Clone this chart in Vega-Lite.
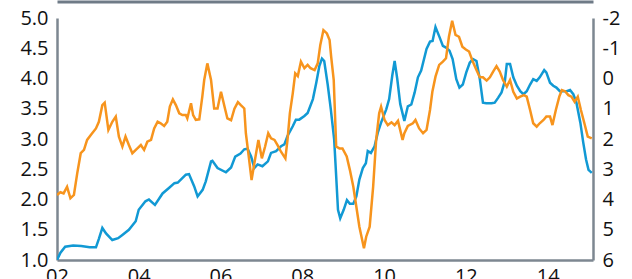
{
  "$schema": "https://vega.github.io/schema/vega-lite/v6.json",
  "width": 536,
  "height": 242,
  "autosize": "none",
  "padding": {"left": 57, "top": 18, "right": 39, "bottom": 19},
  "background": "white",
  "config": {
    "view": {"stroke": null},
    "axis": {"labelFont": "Open Sans", "labelFontSize": 20, "labelColor": "#111111", "domainColor": "#7d8791", "domainWidth": 2.5, "ticks": false, "grid": false, "title": null}
  },
  "datasets": {
    "blue": [
      {"d":"2002-01-01","v":1.00},{"d":"2002-02-01","v":1.12},{"d":"2002-03-15","v":1.22},{"d":"2002-05-25","v":1.24},{"d":"2002-08-05","v":1.23},{"d":"2002-10-20","v":1.21},{"d":"2002-12-15","v":1.21},
      {"d":"2003-01-10","v":1.35},{"d":"2003-02-10","v":1.53},{"d":"2003-03-15","v":1.44},{"d":"2003-05-10","v":1.33},{"d":"2003-07-01","v":1.36},{"d":"2003-08-05","v":1.41},{"d":"2003-10-05","v":1.50},{"d":"2003-12-05","v":1.64},
      {"d":"2004-01-01","v":1.83},{"d":"2004-03-01","v":1.97},{"d":"2004-04-01","v":2.00},{"d":"2004-05-25","v":1.91},{"d":"2004-08-01","v":2.10},{"d":"2004-09-27","v":2.19},{"d":"2004-11-15","v":2.27},{"d":"2004-12-15","v":2.28},
      {"d":"2005-02-25","v":2.41},{"d":"2005-03-25","v":2.42},{"d":"2005-05-10","v":2.22},{"d":"2005-06-10","v":2.05},{"d":"2005-07-25","v":2.16},{"d":"2005-08-22","v":2.30},{"d":"2005-10-08","v":2.63},{"d":"2005-10-20","v":2.64},{"d":"2005-12-05","v":2.52},
      {"d":"2006-02-18","v":2.45},{"d":"2006-04-05","v":2.53},{"d":"2006-05-12","v":2.71},{"d":"2006-06-28","v":2.76},{"d":"2006-08-01","v":2.83},{"d":"2006-08-30","v":2.84},{"d":"2006-10-01","v":2.71},{"d":"2006-10-30","v":2.52},{"d":"2006-11-28","v":2.58},
      {"d":"2007-01-10","v":2.55},{"d":"2007-02-28","v":2.63},{"d":"2007-03-28","v":2.77},{"d":"2007-05-12","v":2.80},{"d":"2007-06-25","v":2.88},{"d":"2007-07-25","v":2.91},{"d":"2007-08-22","v":3.05},{"d":"2007-10-08","v":3.21},{"d":"2007-11-05","v":3.32},{"d":"2007-12-05","v":3.32},
      {"d":"2008-01-20","v":3.38},{"d":"2008-02-18","v":3.43},{"d":"2008-04-05","v":3.66},{"d":"2008-05-05","v":3.93},{"d":"2008-06-02","v":4.21},{"d":"2008-06-25","v":4.33},{"d":"2008-07-15","v":4.29},{"d":"2008-08-15","v":3.90},{"d":"2008-09-12","v":3.49},{"d":"2008-10-12","v":2.99},{"d":"2008-10-30","v":2.38},{"d":"2008-11-15","v":1.83},{"d":"2008-12-05","v":1.69},
      {"d":"2009-01-05","v":1.83},{"d":"2009-02-03","v":1.99},{"d":"2009-03-01","v":1.93},{"d":"2009-04-01","v":1.93},{"d":"2009-04-28","v":2.05},{"d":"2009-05-25","v":2.33},{"d":"2009-06-25","v":2.52},{"d":"2009-07-22","v":2.60},{"d":"2009-08-08","v":2.80},{"d":"2009-09-05","v":2.77},{"d":"2009-10-08","v":2.88},{"d":"2009-11-05","v":3.10},{"d":"2009-12-05","v":3.27},
      {"d":"2010-01-20","v":3.49},{"d":"2010-02-15","v":3.66},{"d":"2010-03-15","v":4.05},{"d":"2010-04-05","v":4.29},{"d":"2010-04-28","v":4.00},{"d":"2010-05-25","v":3.58},{"d":"2010-07-01","v":3.30},{"d":"2010-08-01","v":3.54},{"d":"2010-09-01","v":3.57},{"d":"2010-10-01","v":3.77},{"d":"2010-10-30","v":4.02},{"d":"2010-11-28","v":4.13},
      {"d":"2011-01-15","v":4.49},{"d":"2011-02-15","v":4.61},{"d":"2011-03-10","v":4.62},{"d":"2011-04-05","v":4.85},{"d":"2011-05-12","v":4.68},{"d":"2011-06-10","v":4.54},{"d":"2011-07-08","v":4.51},{"d":"2011-08-08","v":4.46},{"d":"2011-09-05","v":4.32},{"d":"2011-10-08","v":3.99},{"d":"2011-11-05","v":3.85},{"d":"2011-12-05","v":3.90},
      {"d":"2012-01-05","v":4.10},{"d":"2012-02-05","v":4.26},{"d":"2012-03-05","v":4.32},{"d":"2012-04-05","v":4.29},{"d":"2012-05-05","v":3.99},{"d":"2012-06-02","v":3.60},{"d":"2012-07-01","v":3.59},{"d":"2012-08-18","v":3.59},{"d":"2012-09-15","v":3.60},{"d":"2012-10-15","v":3.68},{"d":"2012-11-15","v":3.77},{"d":"2012-12-15","v":3.96},
      {"d":"2013-01-01","v":4.24},{"d":"2013-01-30","v":4.24},{"d":"2013-02-28","v":4.02},{"d":"2013-04-01","v":3.88},{"d":"2013-05-01","v":3.79},{"d":"2013-05-30","v":3.74},{"d":"2013-06-28","v":3.79},{"d":"2013-07-28","v":3.90},{"d":"2013-08-25","v":3.99},{"d":"2013-09-25","v":3.96},{"d":"2013-10-22","v":4.02},{"d":"2013-12-01","v":4.14},{"d":"2013-12-20","v":4.10},
      {"d":"2014-01-22","v":3.93},{"d":"2014-02-20","v":3.88},{"d":"2014-03-20","v":3.85},{"d":"2014-04-20","v":3.79},{"d":"2014-06-20","v":3.79},{"d":"2014-07-20","v":3.81},{"d":"2014-08-18","v":3.74},{"d":"2014-09-15","v":3.60},{"d":"2014-10-20","v":3.27},{"d":"2014-11-15","v":2.94},{"d":"2014-12-10","v":2.66},{"d":"2015-01-01","v":2.49},{"d":"2015-01-30","v":2.44}
    ],
    "orange": [
      {"d":"2002-01-01","v":3.85},{"d":"2002-02-01","v":3.76},{"d":"2002-03-01","v":3.80},{"d":"2002-04-01","v":3.58},{"d":"2002-05-01","v":3.96},{"d":"2002-06-01","v":3.85},{"d":"2002-07-01","v":3.13},{"d":"2002-08-01","v":2.47},{"d":"2002-08-30","v":2.36},{"d":"2002-09-27","v":2.03},{"d":"2002-10-30","v":1.87},{"d":"2002-12-15","v":1.65},
      {"d":"2003-01-10","v":1.43},{"d":"2003-02-10","v":0.88},{"d":"2003-03-03","v":0.80},{"d":"2003-04-05","v":1.70},{"d":"2003-05-10","v":1.43},{"d":"2003-06-10","v":1.26},{"d":"2003-07-08","v":1.92},{"d":"2003-08-08","v":2.25},{"d":"2003-09-05","v":1.92},{"d":"2003-10-05","v":2.20},{"d":"2003-11-05","v":2.47},{"d":"2003-12-20","v":2.31},
      {"d":"2004-01-20","v":2.20},{"d":"2004-02-18","v":2.36},{"d":"2004-03-18","v":2.09},{"d":"2004-04-20","v":2.03},{"d":"2004-05-18","v":1.65},{"d":"2004-06-18","v":1.43},{"d":"2004-07-15","v":1.48},{"d":"2004-08-15","v":1.57},{"d":"2004-09-12","v":1.43},{"d":"2004-10-05","v":0.93},{"d":"2004-11-01","v":0.69},{"d":"2004-11-28","v":0.88},{"d":"2004-12-28","v":1.15},
      {"d":"2005-01-25","v":1.21},{"d":"2005-02-25","v":1.21},{"d":"2005-03-10","v":1.32},{"d":"2005-04-12","v":0.82},{"d":"2005-05-01","v":1.21},{"d":"2005-05-25","v":1.37},{"d":"2005-06-25","v":1.35},{"d":"2005-07-22","v":0.60},{"d":"2005-08-08","v":0.05},{"d":"2005-09-05","v":-0.50},{"d":"2005-10-08","v":0.05},{"d":"2005-11-05","v":0.99},{"d":"2005-12-05","v":0.99},
      {"d":"2006-01-05","v":0.44},{"d":"2006-02-10","v":1.00},{"d":"2006-03-03","v":1.32},{"d":"2006-04-05","v":1.38},{"d":"2006-05-05","v":1.00},{"d":"2006-06-05","v":0.78},{"d":"2006-07-01","v":0.88},{"d":"2006-08-01","v":0.99},{"d":"2006-08-15","v":1.81},{"d":"2006-09-10","v":2.58},{"d":"2006-10-05","v":3.36},{"d":"2006-10-30","v":2.80},{"d":"2006-12-05","v":2.03},
      {"d":"2007-01-05","v":2.64},{"d":"2007-02-03","v":2.25},{"d":"2007-03-03","v":1.81},{"d":"2007-03-28","v":1.98},{"d":"2007-04-28","v":2.03},{"d":"2007-05-25","v":2.20},{"d":"2007-06-25","v":2.42},{"d":"2007-08-03","v":2.64},{"d":"2007-08-22","v":2.03},{"d":"2007-09-12","v":1.15},{"d":"2007-10-08","v":0.49},{"d":"2007-10-30","v":-0.17},{"d":"2007-11-22","v":-0.08},{"d":"2007-12-20","v":-0.56},
      {"d":"2008-01-20","v":-0.34},{"d":"2008-02-18","v":-0.45},{"d":"2008-03-15","v":-0.34},{"d":"2008-04-20","v":-0.28},{"d":"2008-05-18","v":-0.50},{"d":"2008-06-10","v":-1.11},{"d":"2008-07-08","v":-1.60},{"d":"2008-08-08","v":-1.49},{"d":"2008-09-01","v":-1.27},{"d":"2008-09-15","v":-0.72},{"d":"2008-10-08","v":0.05},{"d":"2008-10-30","v":2.25},{"d":"2008-11-28","v":2.31},{"d":"2008-12-25","v":2.31},
      {"d":"2009-02-01","v":2.58},{"d":"2009-03-01","v":3.02},{"d":"2009-04-01","v":3.58},{"d":"2009-04-28","v":4.24},{"d":"2009-05-25","v":4.90},{"d":"2009-07-05","v":5.61},{"d":"2009-07-25","v":5.23},{"d":"2009-08-25","v":4.90},{"d":"2009-09-25","v":3.58},{"d":"2009-10-22","v":2.03},{"d":"2009-11-18","v":1.15},{"d":"2009-12-05","v":0.93},
      {"d":"2010-01-05","v":1.37},{"d":"2010-02-03","v":1.54},{"d":"2010-03-08","v":1.45},{"d":"2010-04-05","v":1.54},{"d":"2010-05-05","v":1.40},{"d":"2010-06-15","v":2.03},{"d":"2010-07-01","v":1.81},{"d":"2010-08-01","v":1.57},{"d":"2010-09-15","v":1.48},{"d":"2010-10-08","v":1.37},{"d":"2010-11-10","v":1.65},{"d":"2010-12-15","v":1.81},
      {"d":"2011-01-15","v":1.70},{"d":"2011-02-15","v":1.04},{"d":"2011-03-08","v":0.44},{"d":"2011-04-05","v":-0.06},{"d":"2011-05-08","v":-0.45},{"d":"2011-06-10","v":-0.56},{"d":"2011-07-08","v":-0.67},{"d":"2011-08-03","v":-1.38},{"d":"2011-09-01","v":-1.91},{"d":"2011-10-01","v":-1.44},{"d":"2011-11-01","v":-1.38},{"d":"2011-12-01","v":-1.05},
      {"d":"2012-01-01","v":-0.96},{"d":"2012-01-30","v":-0.89},{"d":"2012-03-03","v":-0.56},{"d":"2012-04-05","v":-0.28},{"d":"2012-05-05","v":-0.04},{"d":"2012-06-02","v":-0.04},{"d":"2012-07-05","v":0.07},{"d":"2012-08-03","v":-0.04},{"d":"2012-09-01","v":-0.23},{"d":"2012-10-01","v":-0.41},{"d":"2012-10-30","v":-0.23},{"d":"2012-11-28","v":0.05},
      {"d":"2013-01-01","v":0.27},{"d":"2013-01-30","v":0.05},{"d":"2013-02-28","v":0.44},{"d":"2013-04-01","v":0.66},{"d":"2013-05-01","v":0.60},{"d":"2013-06-03","v":0.55},{"d":"2013-06-28","v":0.60},{"d":"2013-07-28","v":1.04},{"d":"2013-08-25","v":1.48},{"d":"2013-09-25","v":1.59},{"d":"2013-10-22","v":1.48},{"d":"2013-11-25","v":1.37},{"d":"2013-12-20","v":1.26},
      {"d":"2014-01-22","v":1.26},{"d":"2014-02-13","v":1.54},{"d":"2014-03-15","v":1.04},{"d":"2014-04-15","v":0.60},{"d":"2014-05-08","v":0.38},{"d":"2014-06-05","v":0.42},{"d":"2014-07-05","v":0.55},{"d":"2014-08-01","v":0.60},{"d":"2014-08-30","v":0.77},{"d":"2014-09-27","v":0.60},{"d":"2014-10-25","v":1.04},{"d":"2014-11-25","v":1.48},{"d":"2014-12-25","v":1.92},{"d":"2015-01-30","v":1.98}
    ]
  },
  "encoding": {
    "x": {
      "field": "d", "type": "temporal",
      "scale": {"domain": ["2002-01-01", "2015-02-10"]},
      "axis": {"values": [{"year": 2002}, {"year": 2004}, {"year": 2006}, {"year": 2008}, {"year": 2010}, {"year": 2012}, {"year": 2014}], "format": "%y", "labelPadding": 6, "labelBaseline": "top", "labelFlush": false}
    }
  },
  "layer": [
    {
      "data": {"name": "blue"},
      "mark": {"type": "line", "color": "#1199d4", "strokeWidth": 2.5, "clip": true},
      "encoding": {
        "y": {"field": "v", "type": "quantitative", "scale": {"domain": [1, 5], "nice": false, "zero": false},
          "axis": {"orient": "left", "values": [1, 1.5, 2, 2.5, 3, 3.5, 4, 4.5, 5], "format": ".1f", "labelPadding": 9}}
      }
    },
    {
      "data": {"name": "orange"},
      "mark": {"type": "line", "color": "#f7941d", "strokeWidth": 2.5, "clip": true},
      "encoding": {
        "x": {"field": "d", "type": "temporal", "axis": {"orient": "top", "labels": false, "offset": 16.5, "domainWidth": 3, "domainColor": "#6f7b87"}},
        "y": {"field": "v", "type": "quantitative", "scale": {"domain": [-2, 6], "reverse": true, "nice": false, "zero": false},
          "axis": {"orient": "right", "values": [-2, -1, 0, 1, 2, 3, 4, 5, 6], "labelExpr": "'' + datum.value", "labelPadding": 9}}
      }
    }
  ],
  "resolve": {"scale": {"y": "independent"}, "axis": {"x": "independent"}}
}
